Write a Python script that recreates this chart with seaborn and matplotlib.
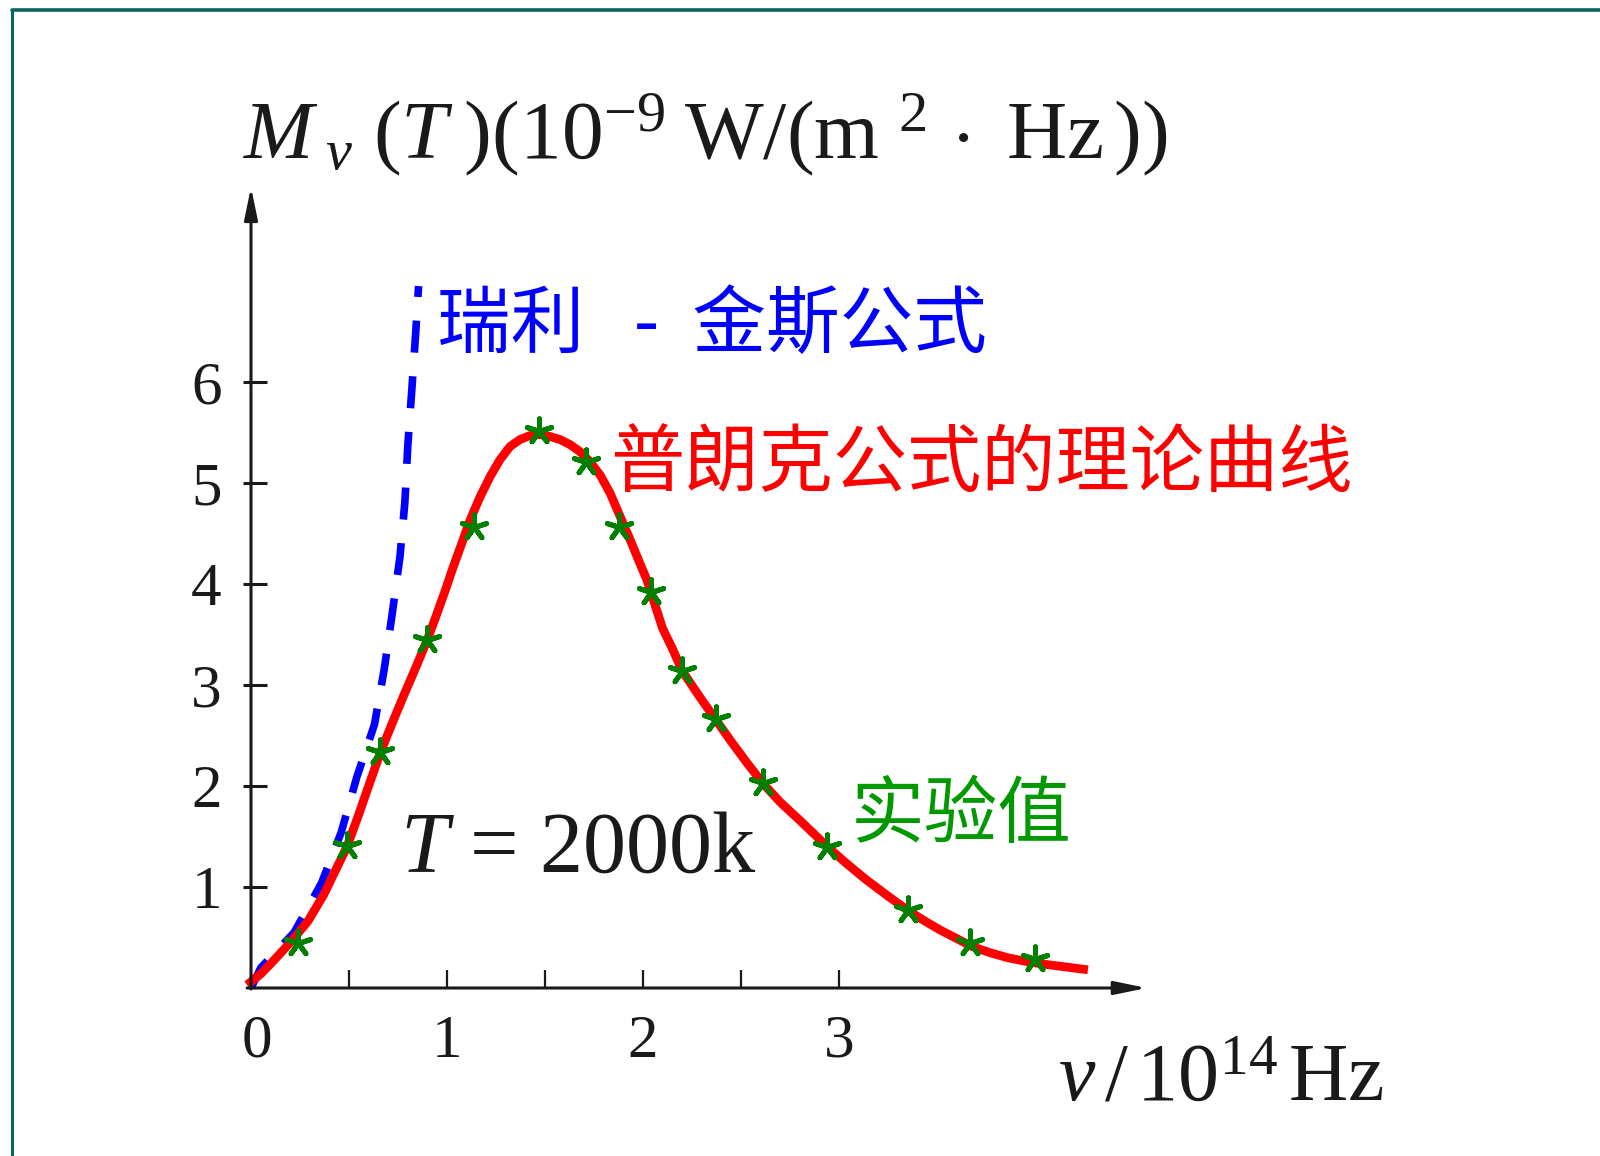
import matplotlib
matplotlib.use("Agg")
import matplotlib.pyplot as plt
import seaborn as sns
from matplotlib.lines import Line2D
from matplotlib.ticker import FixedLocator, NullFormatter
from matplotlib.transforms import ScaledTranslation

# ---------------- data ----------------
# Planck theoretical curve, nu in 1e14 Hz, M in 1e-9 W/(m^2 Hz)
planck_x = [-0.02, 0.05, 0.11, 0.20, 0.29, 0.37, 0.45, 0.49, 0.55, 0.60, 0.66, 0.72,
            0.78, 0.84, 0.90, 0.94, 0.99, 1.03, 1.075, 1.117, 1.168, 1.219, 1.270, 1.321,
            1.372, 1.423, 1.474, 1.526, 1.577, 1.628, 1.679, 1.730, 1.781, 1.832, 1.883,
            1.934, 1.985, 2.02, 2.04, 2.10, 2.15, 2.20, 2.29, 2.37, 2.45, 2.53, 2.61,
            2.70, 2.80, 2.94, 3.04, 3.14, 3.25, 3.35, 3.44, 3.52, 3.60, 3.68, 3.77,
            3.86, 3.95, 4.03, 4.15, 4.27]
planck_y = [0.03, 0.14, 0.26, 0.45, 0.66, 0.92, 1.24, 1.40, 1.72, 2.00, 2.33, 2.62,
            2.90, 3.17, 3.45, 3.66, 3.93, 4.16, 4.40, 4.63, 4.86, 5.06, 5.23, 5.36,
            5.43, 5.47, 5.48, 5.46, 5.43, 5.38, 5.31, 5.21, 5.08, 4.90, 4.67,
            4.44, 4.20, 4.04, 3.92, 3.56, 3.36, 3.14, 2.88, 2.66, 2.44, 2.23, 2.03,
            1.84, 1.66, 1.40, 1.23, 1.07, 0.91, 0.77, 0.66, 0.57, 0.49, 0.41, 0.35,
            0.30, 0.265, 0.24, 0.21, 0.18]

# Rayleigh-Jeans curve
rj_x = [0.00, 0.05, 0.22, 0.36, 0.46, 0.54, 0.63, 0.68, 0.72, 0.76, 0.785, 0.80, 0.82, 0.84, 0.855]
rj_y = [0.00, 0.20, 0.55, 1.04, 1.54, 2.09, 2.61, 3.16, 3.70, 4.27, 4.81, 5.37, 5.91, 6.48, 6.95]

# experimental values
exp_x = [0.24, 0.49, 0.66, 0.90, 1.14, 1.47, 1.71, 1.88, 2.04, 2.20, 2.37, 2.61, 2.94, 3.35, 3.67, 4.00]
exp_y = [0.45, 1.41, 2.34, 3.45, 4.56, 5.51, 5.21, 4.56, 3.92, 3.14, 2.66, 2.03, 1.40, 0.77, 0.45, 0.29]

x_major = [0, 1, 2, 3]
x_minor = [0.5, 1.5, 2.5]
y_ticks = [1, 2, 3, 4, 5, 6]

label_rj = "瑞利   -  金斯公式"
label_planck = "普朗克公式的理论曲线"
label_exp = "实验值"
label_T = r"$T$ = 2000k"
title_txt = r"$M_{\;\nu}\,\,(T\;)(10^{-9}\;\mathrm{W/(m}^{\;\,2}\,\cdot\,\,\mathrm{Hz}\,))$"
xlabel_txt = r"$\nu\,/\,10^{14}\,\mathrm{Hz}$"

# ---------------- style ----------------
sns.set_theme(style="white")
plt.rcParams['font.family'] = ['Liberation Serif', 'Noto Sans CJK SC', 'DejaVu Sans']
plt.rcParams['mathtext.fontset'] = 'custom'
plt.rcParams['mathtext.rm'] = 'Liberation Serif'
plt.rcParams['mathtext.it'] = 'Liberation Serif:italic'
plt.rcParams['mathtext.bf'] = 'Liberation Serif:bold'

fig = plt.figure(figsize=(16, 11.56), dpi=100)
fig.patch.set_facecolor('white')
ax = fig.add_axes([0.14463, 0.13659, 0.588, 0.7077])
ax.set_facecolor('none')

# curves
sns.lineplot(x=rj_x, y=rj_y, sort=False, estimator=None, color='#0000ff', lw=5.5, ax=ax, zorder=2)
ln = ax.lines[-1]
ln.set_dashes((4.2, 3.1))
ln.set_dash_capstyle('butt')

sns.lineplot(x=planck_x, y=planck_y, sort=False, estimator=None, color='#ff0000', lw=6.3,
             ax=ax, zorder=3, solid_joinstyle='round', solid_capstyle='butt')

sns.scatterplot(x=exp_x, y=exp_y, marker=(5, 2, 0), s=330, color='#008000',
                edgecolor='#008000', linewidth=3.6, ax=ax, zorder=5)

ax.set_xlim(-0.1, 4.7)
ax.set_ylim(-0.1, 8.0)

# axes with arrows
for s in ['top', 'right']:
    ax.spines[s].set_visible(False)
ax.spines['left'].set_position(('data', 0))
ax.spines['bottom'].set_position(('data', 0))
ax.spines['left'].set_color('none')
ax.spines['bottom'].set_color('none')

arrow_kw = dict(arrowstyle="-|>,head_length=0.97,head_width=0.2", lw=2.2, color='k',
                mutation_scale=20, shrinkA=0, shrinkB=0)
ax.annotate("", xy=(0, 7.93), xytext=(0, -0.01), arrowprops=arrow_kw, annotation_clip=False)
ax.annotate("", xy=(4.57, 0), xytext=(-0.02, 0), arrowprops=arrow_kw, annotation_clip=False)

# ticks
ax.yaxis.set_major_locator(FixedLocator(y_ticks))
ax.yaxis.set_minor_locator(FixedLocator(y_ticks))
ax.yaxis.remove_overlapping_locs = False
ax.set_yticklabels([str(v) for v in y_ticks])
ax.tick_params(axis='y', which='major', left=True, direction='in', length=11.5, width=2.2,
               labelsize=44, pad=21, color='k', labelcolor='k')
ax.tick_params(axis='y', which='minor', left=True, direction='out', length=5.8, width=2.2, color='k')

ax.xaxis.set_major_locator(FixedLocator(x_major))
ax.xaxis.set_minor_locator(FixedLocator(x_minor))
ax.xaxis.set_minor_formatter(NullFormatter())
ax.set_xticklabels([str(v) for v in x_major])
ax.tick_params(axis='x', which='both', bottom=True, direction='in', length=13, width=1.6,
               color='k')
ax.tick_params(axis='x', which='major', labelsize=44, pad=19, labelcolor='k')
lbl0 = ax.get_xticklabels()[0]
lbl0.set_transform(lbl0.get_transform() + ScaledTranslation(6 / 100, 0, fig.dpi_scale_trans))
ax.set_xlabel("")
ax.set_ylabel("")

# annotations
ax.text(0.95, 6.55, label_rj, color='#0000ff', fontsize=53, va='center', ha='left',
        family=['Noto Sans CJK SC', 'DejaVu Sans'])
ax.text(1.83, 5.18, label_planck, color='#ff0000', fontsize=53.5, va='center', ha='left',
        family=['Noto Sans CJK SC'])
ax.text(3.06, 1.70, label_exp, color='#009900', fontsize=53, va='center', ha='left',
        family=['Noto Sans CJK SC'])
ax.text(0.76, 1.15, label_T, color='k', fontsize=62, va='baseline', ha='left')

fig.text(243 / 1600, 1 - 158 / 1156, title_txt, fontsize=60, color='k', ha='left', va='baseline')
fig.text(1058 / 1600, 1 - 1100 / 1156, xlabel_txt, fontsize=59, color='k', ha='left', va='baseline')

# slide frame
frame_c = '#0b6464'
fig.add_artist(Line2D([11.5 / 1600, 11.5 / 1600], [0, 1 - 9.5 / 1156], transform=fig.transFigure,
                      color=frame_c, lw=2.2))
fig.add_artist(Line2D([11.5 / 1600, 1], [1 - 9.5 / 1156, 1 - 9.5 / 1156], transform=fig.transFigure,
                      color=frame_c, lw=2.6))

fig.savefig("out.png", dpi=100, facecolor='white')
